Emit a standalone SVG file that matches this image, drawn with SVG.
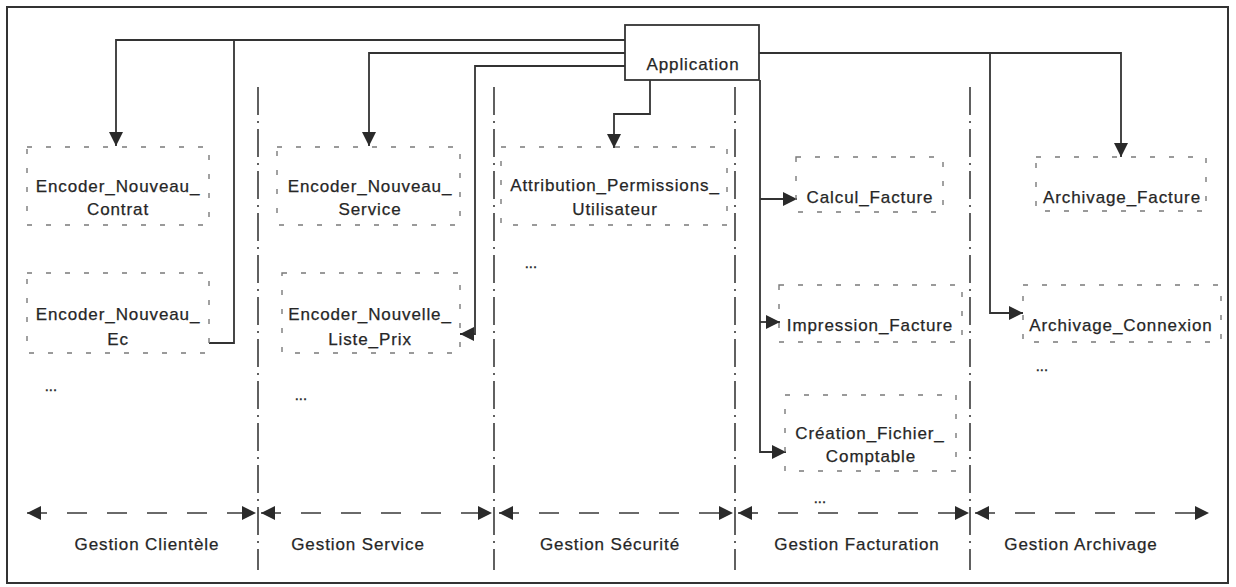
<svg xmlns="http://www.w3.org/2000/svg" width="1236" height="587" viewBox="0 0 1236 587">
<style>
text{font-family:"Liberation Sans",Arial,sans-serif;font-size:17px;fill:#262626;stroke:#262626;stroke-width:0.25;letter-spacing:0.9px;text-anchor:middle}
.dots{font-size:13px;text-anchor:start;letter-spacing:0.5px;stroke-width:0.5}
.box{fill:none;stroke:#7a7a7a;stroke-width:1.4;stroke-dasharray:5 14}
.conn{fill:none;stroke:#333;stroke-width:1.8}
.sep{fill:none;stroke:#3a3a3a;stroke-width:1.6;stroke-dasharray:28 6 2 6}
.dim{fill:none;stroke:#3a3a3a;stroke-width:1.6;stroke-dasharray:20 20}
</style>
<defs>
<marker id="ah" markerUnits="userSpaceOnUse" markerWidth="14" markerHeight="14" refX="14" refY="7" orient="auto-start-reverse" viewBox="0 0 14 14">
<path d="M0,0 L14,7 L0,14 z" fill="#2a2a2a"/>
</marker>
</defs>
<rect x="0" y="0" width="1236" height="587" fill="#fff"/>
<rect id="frame" x="7" y="7" width="1221" height="576" fill="none" stroke="#333" stroke-width="2"/>

<g id="separators">
<line class="sep" x1="258" y1="87" x2="258" y2="570"/>
<line class="sep" x1="494" y1="87" x2="494" y2="570"/>
<line class="sep" x1="735" y1="87" x2="735" y2="570"/>
<line class="sep" x1="970" y1="87" x2="970" y2="570"/>
</g>

<g id="connectors">
<path class="conn" d="M625,40 H116 V146" marker-end="url(#ah)"/>
<path class="conn" d="M234,40 V343 H209"/>
<path class="conn" d="M625,53 H369 V146" marker-end="url(#ah)"/>
<path class="conn" d="M625,66 H475 V334 H460" marker-end="url(#ah)"/>
<path class="conn" d="M650,80 V114 H614 V148" marker-end="url(#ah)"/>
<path class="conn" d="M759,53 H1121 V157" marker-end="url(#ah)"/>
<path class="conn" d="M990,53 V313 H1023" marker-end="url(#ah)"/>
<path class="conn" d="M760,80 V452 H786" marker-end="url(#ah)"/>
<path class="conn" d="M760,199 H797" marker-end="url(#ah)"/>
<path class="conn" d="M760,322 H780" marker-end="url(#ah)"/>
<path class="dim" d="M27,513 H256" marker-start="url(#ah)" marker-end="url(#ah)"/>
<path class="dim" d="M261,513 H492" marker-start="url(#ah)" marker-end="url(#ah)"/>
<path class="dim" d="M499,513 H733" marker-start="url(#ah)" marker-end="url(#ah)"/>
<path class="dim" d="M738,513 H969" marker-start="url(#ah)" marker-end="url(#ah)"/>
<path class="dim" d="M975,513 H1209" marker-start="url(#ah)" marker-end="url(#ah)"/>
</g>

<g id="application">
<rect x="625" y="25" width="134" height="55" fill="#fff" stroke="#333" stroke-width="1.8"/>
<text x="693" y="70">Application</text>
</g>

<g id="encoder_nouveau_contrat">
<rect class="box" x="27" y="147" width="182" height="78"/>
<text x="118" y="192">Encoder_Nouveau_</text>
<text x="118" y="215">Contrat</text>
</g>
<g id="encoder_nouveau_ec">
<rect class="box" x="27" y="273" width="182" height="80"/>
<text x="118" y="320">Encoder_Nouveau_</text>
<text x="118" y="345">Ec</text>
</g>
<text class="dots" x="45" y="391">...</text>

<g id="encoder_nouveau_service">
<rect class="box" x="277" y="147" width="183" height="78"/>
<text x="370" y="192">Encoder_Nouveau_</text>
<text x="370" y="215">Service</text>
</g>
<g id="encoder_nouvelle_liste_prix">
<rect class="box" x="282" y="273" width="178" height="80"/>
<text x="370" y="320">Encoder_Nouvelle_</text>
<text x="370" y="345">Liste_Prix</text>
</g>
<text class="dots" x="295" y="400">...</text>

<g id="attribution_permissions_utilisateur">
<rect class="box" x="501" y="147" width="226" height="78"/>
<text x="615" y="191">Attribution_Permissions_</text>
<text x="615" y="215">Utilisateur</text>
</g>
<text class="dots" x="525" y="268">...</text>

<g id="calcul_facture">
<rect class="box" x="796" y="157" width="147" height="55"/>
<text x="870" y="203">Calcul_Facture</text>
</g>
<g id="impression_facture">
<rect class="box" x="779" y="285" width="183" height="57"/>
<text x="870" y="331">Impression_Facture</text>
</g>
<g id="creation_fichier_comptable">
<rect class="box" x="785" y="395" width="171" height="76"/>
<text x="870" y="439">Création_Fichier_</text>
<text x="871" y="462">Comptable</text>
</g>
<text class="dots" x="814" y="503">...</text>

<g id="archivage_facture">
<rect class="box" x="1036" y="157" width="170" height="54"/>
<text x="1122" y="203">Archivage_Facture</text>
</g>
<g id="archivage_connexion">
<rect class="box" x="1023" y="285" width="198" height="57"/>
<text x="1121" y="331">Archivage_Connexion</text>
</g>
<text class="dots" x="1036" y="371">...</text>

<g id="labels">
<text x="147" y="550">Gestion Clientèle</text>
<text x="358" y="550">Gestion Service</text>
<text x="610" y="550">Gestion Sécurité</text>
<text x="857" y="550">Gestion Facturation</text>
<text x="1081" y="550">Gestion Archivage</text>
</g>
</svg>
